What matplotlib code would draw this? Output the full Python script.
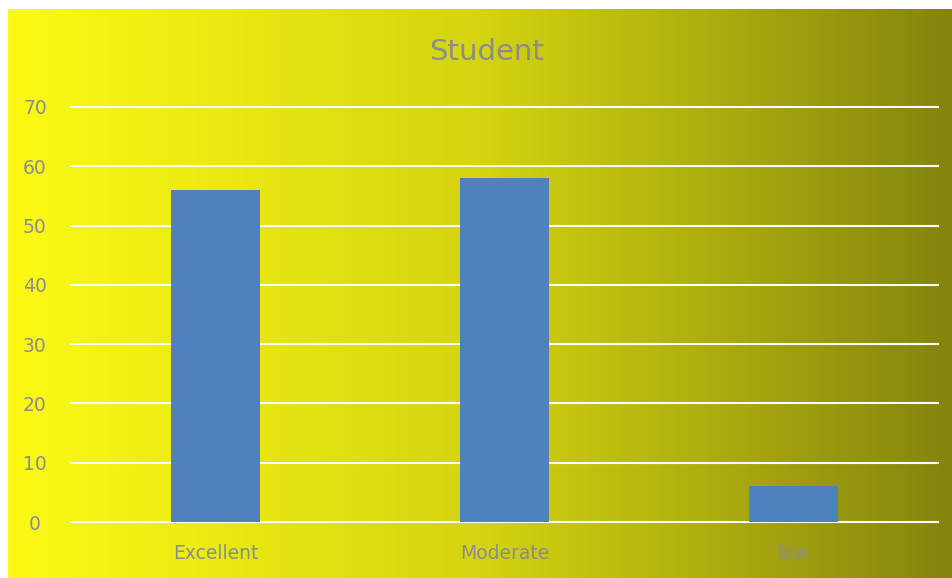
import matplotlib.pyplot as plt
import numpy as np
from matplotlib.colors import LinearSegmentedColormap

categories = ["Excellent", "Moderate", "low"]
values = [56, 58, 6]
yticks = [0, 10, 20, 30, 40, 50, 60, 70]

W, H = 953, 578
fig = plt.figure(figsize=(W / 100, H / 100), dpi=100)
fig.patch.set_facecolor("white")

# gradient background (yellow -> olive)
bg = fig.add_axes([8 / W, 0, 945 / W, (H - 9) / H])
cmap = LinearSegmentedColormap.from_list(
    "yo", [(0, "#fcfa14"), (0.5, "#d4d410"), (1, "#84840e")])
bg.imshow(np.linspace(0, 1, 256)[None, :], aspect="auto", cmap=cmap,
          extent=[0, 1, 0, 1])
bg.set_axis_off()

ax = fig.add_axes([71 / W, 1 - 522 / H, (938 - 71) / W, (522 - 107) / H])
ax.set_facecolor("none")
x = np.arange(len(categories))
ax.bar(x, values, width=0.31, color="#4f81bd", zorder=3)
ax.set_xlim(-0.5, len(categories) - 0.5)
ax.set_ylim(0, 70)
ax.set_yticks(yticks)
ax.set_xticks(x, categories)
ax.grid(axis="y", color="white", linewidth=1.5, zorder=1)
for gl in ax.get_ygridlines():
    gl.set_clip_on(False)
for s in ax.spines.values():
    s.set_visible(False)
ax.tick_params(length=0, labelsize=13.5, labelcolor="#8c8c8c", pad=16)
ax.tick_params(axis="y", pad=26)
for lbl in ax.get_yticklabels():
    lbl.set_horizontalalignment("center")

fig.text(487 / W, 1 - 52 / H, "Student", ha="center", va="center",
         fontsize=21, color="#8c8c8c")

fig.savefig("out.png", dpi=100)
